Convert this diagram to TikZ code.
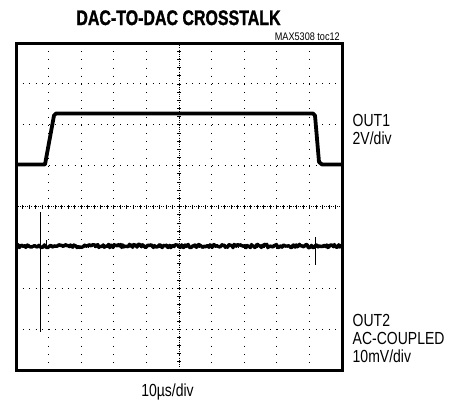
\documentclass[tikz,border=0pt]{standalone}
\usepackage{fontspec}
\setmainfont{Liberation Sans}
\newfontface\heavyfont{Liberation Sans Bold}[RawFeature={embolden=1.5}]
\usetikzlibrary{positioning}
\newcommand{\cond}[2][0.80]{\scalebox{#1}[1]{#2}}
\tikzset{
  gridh/.style={line width=0.8pt, dash pattern=on 0.8pt off 5.72pt},
  gridv/.style={line width=0.8pt, dash pattern=on 0.8pt off 7.38pt},
  trace/.style={line width=3.8pt, line join=round},
  lbl/.style={inner sep=0pt, font=\fontsize{17.5}{18}\selectfont, anchor=base west}
}
\begin{document}
\begin{tikzpicture}[x=1pt,y=-1pt]
\useasboundingbox (0,0) rectangle (453,402);
\fill[white] (0,0) rectangle (453,402);
\pgfmathsetseed{5308}
% grid
\foreach \i in {1,...,9}{
  \draw[gridv] ({16+32.6*\i},43) -- ({16+32.6*\i},370);
}
\foreach \j in {1,...,7}{
  \draw[gridh] (16,{43+40.875*\j}) -- (342,{43+40.875*\j});
}
% center axes with minor ticks
\foreach \k in {0,...,50}{
  \draw[line width=0.7pt] ({16+6.52*\k},204.5) -- ({16+6.52*\k},208.5);
}
\foreach \k in {0,...,40}{
  \draw[line width=0.7pt] (177,{43+8.175*\k}) -- (181,{43+8.175*\k});
}
\draw[line width=0.7pt, dash pattern=on 1pt off 1.2pt] (16,206.5) -- (342,206.5);
\draw[line width=0.7pt, dash pattern=on 1pt off 1.2pt] (179,43) -- (179,370);
% OUT1
\draw[trace] (16,164.5) -- (45,164.5) -- (54,115.5) -- (56,113.5)
  -- (313,113.5) -- (315,115.5) -- (319,162) -- (322,164.5) -- (342,164.5);
% OUT2
\draw[line width=3.4pt, line join=round]
  plot[domain=16:342, samples=300] (\x,{246+1.7*rand});
\draw[line width=1.1pt] (40.5,212) -- (40.5,332);
\draw[line width=1pt] (315,237) -- (315,265);
\draw[line width=1pt] (46,240) -- (46,246);
% frame
\draw[line width=3pt] (16,43) rectangle (342,370);
% labels
\node[inner sep=0pt, anchor=base, font=\heavyfont\fontsize{21}{21}\selectfont] (title) at (178.5,25) {\cond[0.76]{DAC-TO-DAC CROSSTALK}};
\node[inner sep=0pt, anchor=base east, font=\fontsize{11}{11}\selectfont] (toc) at (340,40) {\cond[0.83]{MAX5308 toc12}};
\node[lbl] (o1) at (352.5,126) {\cond{OUT1}};
\node[lbl] (o1s) at (352.5,144) {\cond{2V/div}};
\node[lbl] (o2) at (352.5,326) {\cond{OUT2}};
\node[lbl] (o2c) at (352.5,344) {\cond{AC-COUPLED}};
\node[lbl] (o2s) at (352.5,362) {\cond{10mV/div}};
\node[lbl, anchor=base] (ts) at (167.5,396) {\cond{10µs/div}};
\end{tikzpicture}
\end{document}
